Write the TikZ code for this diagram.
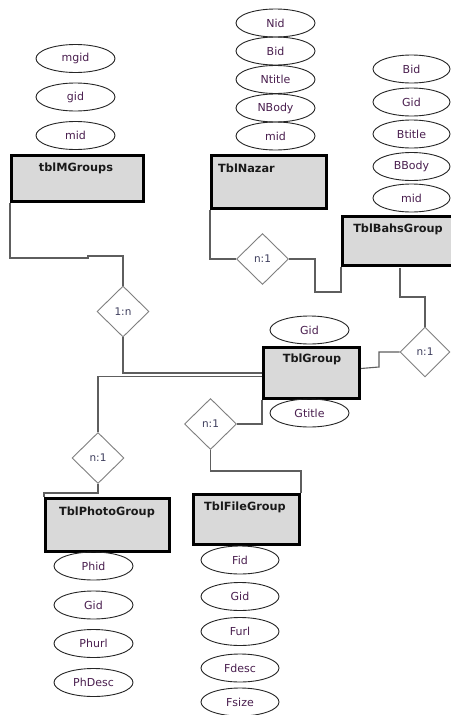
\documentclass[tikz,border=0pt]{standalone}
\usepackage{fontspec}
\setmainfont{DejaVu Sans}
\usetikzlibrary{shapes.geometric}
\definecolor{attrtext}{HTML}{4A1F4F}
\definecolor{boxfill}{HTML}{D9D9D9}
\definecolor{conn}{HTML}{5E5E5E}
\definecolor{dborder}{HTML}{7F7F7F}
\definecolor{reltext}{HTML}{3D3D5C}
\tikzset{
  attr/.style={draw=black!85, line width=0.9pt, ellipse, minimum width=79pt, minimum height=28pt, inner sep=0pt, text=attrtext, font=\fontsize{11}{13}\selectfont},
  tbl/.style={draw=black, line width=3pt, fill=boxfill, rectangle, inner sep=0pt, anchor=north west},
  tbltitle/.style={font=\fontsize{11.3}{13}\bfseries\selectfont, text=black!90, inner sep=0pt},
  rel/.style={draw=dborder, line width=0.9pt, fill=white, diamond, aspect=1, minimum width=52pt, minimum height=51pt, inner sep=0pt, text=reltext, font=\fontsize{10.5}{12}\selectfont},
  link/.style={draw=conn, line width=1.1pt},
}
\begin{document}
\begin{tikzpicture}[x=1pt,y=-1pt]
\useasboundingbox (0,0) rectangle (450,715);
\fill[white] (0,0) rectangle (450,715);

% tblMGroups
\node[attr] (mg1) at (75.5,58.5) {mgid};
\node[attr] (mg2) at (75.5,97) {gid};
\node[attr] (mg3) at (75.5,135.5) {mid};
\node[tbl, minimum width=132pt, minimum height=46pt] (mg) at (10,154) {};
\node[tbltitle] (mgT) at (76,168) {tblMGroups};

% TblNazar
\node[attr] (nz1) at (275.5,23) {Nid};
\node[attr] (nz2) at (275.5,51) {Bid};
\node[attr] (nz3) at (275.5,79.5) {Ntitle};
\node[attr] (nz4) at (275.5,108) {NBody};
\node[attr] (nz5) at (275.5,136) {mid};
\node[tbl, minimum width=115pt, minimum height=53pt] (nz) at (210,154) {};
\node[tbltitle, anchor=west] (nzT) at (218,168) {TblNazar};

% TblBahsGroup
\node[attr, minimum width=77pt] (bg1) at (411.5,69) {Bid};
\node[attr, minimum width=77pt] (bg2) at (411.5,102) {Gid};
\node[attr, minimum width=77pt] (bg3) at (411.5,134) {Btitle};
\node[attr, minimum width=77pt] (bg4) at (411.5,166.5) {BBody};
\node[attr, minimum width=77pt] (bg5) at (411.5,198) {mid};
\node[tbl, minimum width=125pt, minimum height=49pt] (bg) at (341,215) {};
\node[tbltitle] (bgT) at (398,229) {TblBahsGroup};

% TblGroup
\node[attr] (g1) at (309.5,330) {Gid};
\node[tbl, minimum width=96pt, minimum height=51pt] (grp) at (262,346) {};
\node[tbltitle] (grpT) at (312,359) {TblGroup};
\node[attr] (g2) at (309.5,413) {Gtitle};

% TblPhotoGroup
\node[tbl, minimum width=124pt, minimum height=53pt] (ph) at (44,497) {};
\node[tbltitle] (phT) at (107,512) {TblPhotoGroup};
\node[attr] (ph1) at (93.5,566) {Phid};
\node[attr] (ph2) at (93.5,605) {Gid};
\node[attr] (ph3) at (93.5,643.5) {Phurl};
\node[attr] (ph4) at (93.5,682.5) {PhDesc};

% TblFileGroup
\node[tbl, minimum width=106pt, minimum height=50pt] (fg) at (192,493) {};
\node[tbltitle] (fgT) at (245,507) {TblFileGroup};
\node[attr, minimum width=78pt] (fg1) at (240,560) {Fid};
\node[attr, minimum width=78pt] (fg2) at (240,596.5) {Gid};
\node[attr, minimum width=78pt] (fg3) at (240,631.5) {Furl};
\node[attr, minimum width=78pt] (fg4) at (240,668) {Fdesc};
\node[attr, minimum width=78pt] (fg5) at (240,702) {Fsize};

% relationships
\node[rel] (d1) at (123,311.5) {1:n};
\node[rel] (d2) at (262.5,259) {n:1};
\node[rel, minimum width=50pt, minimum height=50pt] (d3) at (425,352) {n:1};
\node[rel] (d4) at (98,458) {n:1};
\node[rel] (d5) at (210.5,424) {n:1};

\coordinate (bgdrop) at (400,268);

% connectors
\draw[link] (mg.south west) -- (10,258) -- (88,258) -- (88,256) -| (d1.north);
\draw[link] (d1.south) |- (grp.west);
\draw[link] ([yshift=-3.5pt]grp.west) -| (d4.north);
\draw[link] (d4.south) -- (98,493) -| (ph.north west);
\draw[link] (d5.east) -| (grp.south west);
\draw[link] (d5.south) -- (210.5,471) -| (fg.north east);
\draw[link] ([yshift=4.5pt]grp.east) -- (379,367) |- (d3.west);
\draw[link] (d3.north) |- (400,297) -- (bgdrop);
\draw[link] (nz.south west) |- (d2.west);
\draw[link] (d2.east) -| (315,292) -| (bg.south west);
\end{tikzpicture}
\end{document}
